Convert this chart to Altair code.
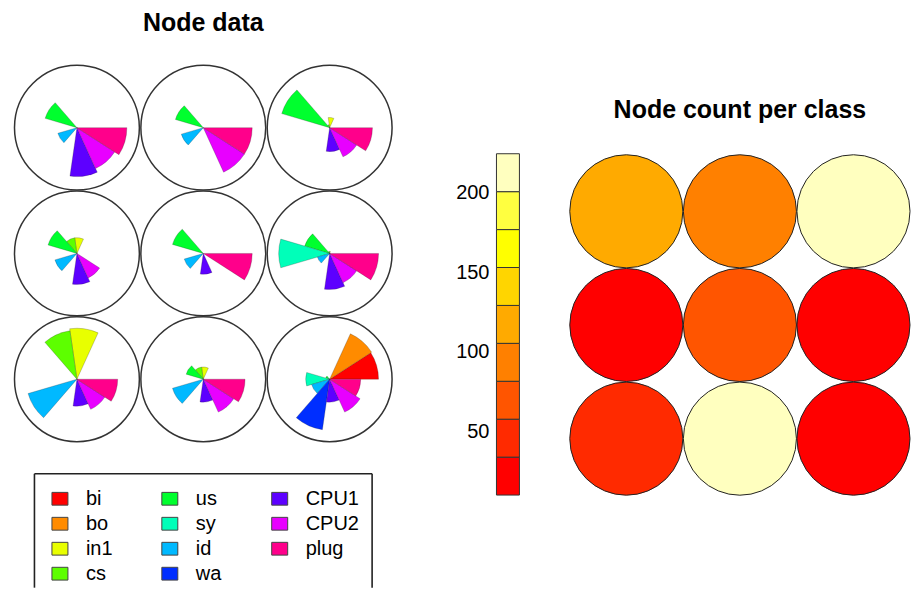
import math
import altair as alt
import pandas as pd

FONT = "Liberation Sans"

# ---- data -------------------------------------------------------------
variables = ["bi", "bo", "in1", "cs", "us", "sy", "id", "wa", "CPU1", "CPU2", "plug"]
var_colors = ["#FF0000", "#FF8B00", "#E8FF00", "#5DFF00", "#00FF2E", "#00FFB9",
              "#00B9FF", "#002EFF", "#5D00FF", "#E800FF", "#FF008B"]

# codebook vectors (segment lengths, 0-1), grid rows listed top -> bottom
codes_row_top = [
    [0, 0, 0.00, 0.00, 0.65, 0.00, 0.39, 0.00, 0.96, 0.88, 0.98],
    [0, 0, 0.00, 0.00, 0.57, 0.00, 0.45, 0.00, 0.00, 0.96, 0.96],
    [0, 0, 0.20, 0.06, 0.98, 0.00, 0.00, 0.00, 0.47, 0.63, 0.84],
]
codes_row_mid = [
    [0, 0, 0.31, 0.31, 0.59, 0.00, 0.45, 0.00, 0.61, 0.53, 0.00],
    [0, 0, 0.00, 0.00, 0.63, 0.00, 0.39, 0.00, 0.41, 0.00, 0.96],
    [0, 0, 0.04, 0.04, 0.51, 1.00, 0.25, 0.00, 0.71, 0.63, 0.96],
]
codes_row_bot = [
    [0.00, 0.00, 1.00, 0.96, 0.00, 0.00, 1.00, 0.00, 0.53, 0.65, 0.80],
    [0.00, 0.00, 0.24, 0.24, 0.35, 0.00, 0.63, 0.00, 0.45, 0.71, 0.82],
    [0.96, 0.98, 0.00, 0.00, 0.08, 0.47, 0.37, 1.00, 0.45, 0.71, 0.61],
]

# node counts, grid rows listed top -> bottom
counts_row_top = [118, 92, 225]
counts_row_mid = [14, 68, 10]
counts_row_bot = [45, 212, 19]

heat_colors = ["#FF0000", "#FF2A00", "#FF5500", "#FF8000", "#FFAA00",
               "#FFD500", "#FFFF00", "#FFFF40", "#FFFFBF"]
colorbar_ticks = [50, 100, 150, 200]

# ---- tables -------------------------------------------------------------
code_rows = [(3, codes_row_top), (2, codes_row_mid), (1, codes_row_bot)]
count_rows = [(3, counts_row_top), (2, counts_row_mid), (1, counts_row_bot)]

seg_records, node_records = [], []
for row, nodes in code_rows:
    for c, vec in enumerate(nodes):
        node_records.append({"col": c + 1, "row": row})
        for i, v in enumerate(vec):
            if v > 0:
                seg_records.append({"col": c + 1, "row": row, "seg": i, "seg2": i + 1,
                                    "value": v, "var": variables[i]})
seg_df = pd.DataFrame(seg_records)
node_df = pd.DataFrame(node_records)

count_records = []
for row, cnts in count_rows:
    for c, n in enumerate(cnts):
        count_records.append({"col": c + 1, "row": row, "count": n})
count_df = pd.DataFrame(count_records)

all_counts = [r["count"] for r in count_records]
lo, hi = min(all_counts), max(all_counts)
nb = len(heat_colors)
edges = [lo + (hi - lo) * k / nb for k in range(nb + 1)]
bar_df = pd.DataFrame({"lo": edges[:-1], "hi": edges[1:],
                       "mid": [(edges[k] + edges[k + 1]) / 2 for k in range(nb)]})
tick_df = pd.DataFrame({"value": colorbar_ticks})

leg_df = pd.DataFrame({"var": variables,
                       "col": [i // 4 for i in range(len(variables))],
                       "row": [i % 4 for i in range(len(variables))]})

var_scale = alt.Scale(domain=variables, range=var_colors)
heat_scale = alt.Scale(type="threshold", domain=edges[1:-1], range=heat_colors)


def lin(d0, d1, reverse=False):
    if reverse:
        return alt.Scale(domain=[d0, d1], nice=False, zero=False, reverse=True)
    return alt.Scale(domain=[d0, d1], nice=False, zero=False)


# ---- left: node data ----------------------------------------------------
NW, NH = 400, 442
xs_n = lin(0.4545, 3.6166)
ys_n = lin(0.4384, 3.949)

node_circles = alt.Chart(node_df).mark_point(
    shape="circle", filled=False, size=(2 * 62.5) ** 2,
    stroke="#333333", strokeWidth=1.5, opacity=1
).encode(
    x=alt.X("col:Q", scale=xs_n, axis=None),
    y=alt.Y("row:Q", scale=ys_n, axis=None),
)

node_arcs = alt.Chart(seg_df).mark_arc(
    stroke="#222222", strokeWidth=0.4, strokeOpacity=0.6
).encode(
    x=alt.X("col:Q", scale=xs_n, axis=None),
    y=alt.Y("row:Q", scale=ys_n, axis=None),
    theta=alt.Theta("seg:Q", stack=None,
                    scale=alt.Scale(domain=[0, 11], range=[2.5 * math.pi, 0.5 * math.pi],
                                    nice=False, zero=False)),
    theta2="seg2:Q",
    radius=alt.Radius("value:Q", scale=alt.Scale(type="linear", domain=[0, 1],
                                                 range=[0, 51], zero=True, nice=False)),
    color=alt.Color("var:N", scale=var_scale, legend=None),
)

node_title = alt.Chart(pd.DataFrame({"t": ["Node data"]})).mark_text(
    fontSize=25, fontWeight="bold", font=FONT, baseline="alphabetic", align="center",
    color="black"
).encode(x=alt.X(datum=2, scale=xs_n, axis=None),
         y=alt.Y(datum=3.766, scale=ys_n, axis=None), text="t:N")

nodes_panel = alt.layer(node_circles, node_arcs, node_title).properties(width=NW, height=NH)

# ---- legend -------------------------------------------------------------
LW, LH = 400, 138
xs_l = lin(-0.4727, 3.1636)
ys_l = lin(-1.96, 3.56, reverse=True)

leg_sw = alt.Chart(leg_df).mark_point(
    shape="M-1,-0.8H1V0.8H-1Z", size=256, filled=True, opacity=1,
    stroke="#444444", strokeWidth=1
).encode(
    x=alt.X("col:Q", scale=xs_l, axis=None),
    y=alt.Y("row:Q", scale=ys_l, axis=None),
    color=alt.Color("var:N", scale=var_scale, legend=None),
)
leg_tx = alt.Chart(leg_df).mark_text(
    align="left", baseline="middle", dx=26, fontSize=20, font=FONT, color="black"
).encode(
    x=alt.X("col:Q", scale=xs_l, axis=None),
    y=alt.Y("row:Q", scale=ys_l, axis=None),
    text="var:N",
)
box_df = pd.DataFrame({"x": [-0.232, -0.232, 2.841], "x2": [2.841, -0.232, 2.841],
                       "y": [-1.0, -1.0, -1.0], "y2": [-1.0, 3.56, 3.56]})
leg_box = alt.Chart(box_df).mark_rule(color="#222222", strokeWidth=1.6).encode(
    x=alt.X("x:Q", scale=xs_l, axis=None), x2="x2:Q",
    y=alt.Y("y:Q", scale=ys_l, axis=None), y2="y2:Q",
)
legend_panel = alt.layer(leg_box, leg_sw, leg_tx).properties(width=LW, height=LH)

# ---- colour bar ------------------------------------------------------------
CW, CH = 157, 580
xs_c = lin(-3.87, 2.957)
ys_c = lin(-48.35, 316.6)

cbar = alt.Chart(bar_df).mark_rect(stroke="#333333", strokeWidth=1).encode(
    x=alt.X(datum=0, scale=xs_c, axis=None), x2=alt.X2(datum=1),
    y=alt.Y("lo:Q", scale=ys_c, axis=None), y2="hi:Q",
    color=alt.Color("mid:Q", scale=heat_scale, legend=None),
)
ctick = alt.Chart(tick_df).mark_text(
    align="right", baseline="middle", dx=-7, fontSize=20, font=FONT, color="black"
).encode(
    x=alt.X(datum=0, scale=xs_c, axis=None),
    y=alt.Y("value:Q", scale=ys_c, axis=None),
    text="value:Q",
)
cbar_panel = alt.layer(cbar, ctick).properties(width=CW, height=CH)

# ---- counts ---------------------------------------------------------------
KW, KH = 347, 580
xs_k = lin(0.4547, 3.5066)
ys_k = lin(-0.311, 4.7856)

count_circles = alt.Chart(count_df).mark_circle(
    size=(2 * 56.6) ** 2, stroke="#222222", strokeWidth=1, opacity=1
).encode(
    x=alt.X("col:Q", scale=xs_k, axis=None),
    y=alt.Y("row:Q", scale=ys_k, axis=None),
    color=alt.Color("count:Q", scale=heat_scale, legend=None),
)
count_title = alt.Chart(pd.DataFrame({"t": ["Node count per class"]})).mark_text(
    fontSize=25, fontWeight="bold", font=FONT, baseline="alphabetic", align="center",
    color="black"
).encode(x=alt.X(datum=2, scale=xs_k, axis=None),
         y=alt.Y(datum=3.8216, scale=ys_k, axis=None), text="t:N")
counts_panel = alt.layer(count_circles, count_title).properties(width=KW, height=KH)

left = alt.vconcat(nodes_panel, legend_panel, spacing=0)
chart = alt.hconcat(left, cbar_panel, counts_panel, spacing=0).properties(
    padding=0
).configure_view(stroke=None).configure_concat(spacing=0).resolve_scale(color="independent")

chart.save("out.html", embed_options={"renderer": "svg", "actions": False})
